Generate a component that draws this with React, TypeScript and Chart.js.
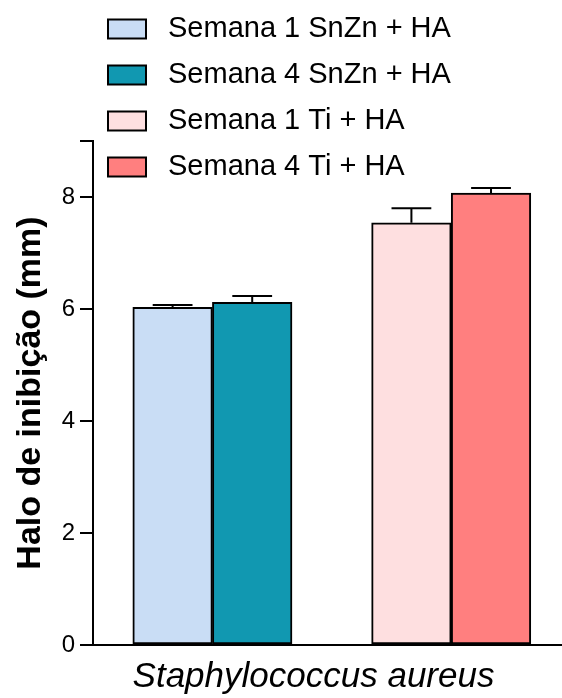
import { useEffect, useRef } from 'react';
import { Chart, registerables } from 'chart.js';

Chart.register(...registerables);

// Inhibition halo (mm) against Staphylococcus aureus, by coating and week
const seriesLabels = ['Semana 1 SnZn + HA', 'Semana 4 SnZn + HA', 'Semana 1 Ti + HA', 'Semana 4 Ti + HA'];
const haloMeans = [6.03, 6.12, 7.54, 8.07];
const haloErrors = [0.04, 0.11, 0.26, 0.09];
const barColors = ['#C9DDF5', '#1198B1', '#FEDFE0', '#FF7F7F'];
const yTickValues = [0, 2, 4, 6, 8, 9];
const yTickLabels = ['0', '2', '4', '6', '8', ''];
const xTitle = 'Staphylococcus aureus';
const yTitle = 'Halo de inibição (mm)';

const FONT = '"Liberation Sans", Arial, Helvetica, sans-serif';

// bars come in pairs (week 1, week 4) with one empty slot between the coatings
const slotOf = (i: number) => i + 1 + Math.floor(i / 2);

// SD caps drawn above each bar
const errorBars = {
  id: 'errorBars',
  afterDatasetsDraw(chart: any) {
    const { ctx } = chart;
    const yScale = chart.scales.y;
    ctx.save();
    ctx.strokeStyle = '#000';
    ctx.lineWidth = 2;
    chart.data.datasets.forEach((ds: any, i: number) => {
      const bar = chart.getDatasetMeta(i).data[0];
      if (!bar) return;
      const top = yScale.getPixelForValue(haloMeans[i] + haloErrors[i]);
      const half = bar.width / 4;
      ctx.beginPath();
      ctx.moveTo(bar.x, bar.y);
      ctx.lineTo(bar.x, top);
      ctx.moveTo(bar.x - half, top);
      ctx.lineTo(bar.x + half, top);
      ctx.stroke();
    });
    ctx.restore();
  },
};

// stacked legend with outlined swatches above the plot
const boxLegend = {
  id: 'boxLegend',
  afterDraw(chart: any) {
    const { ctx } = chart;
    ctx.save();
    ctx.font = `29px ${FONT}`;
    ctx.textBaseline = 'middle';
    ctx.textAlign = 'left';
    chart.data.datasets.forEach((ds: any, i: number) => {
      const cy = 29 + i * 46;
      ctx.fillStyle = ds.backgroundColor;
      ctx.fillRect(108, cy - 9.5, 38, 19);
      ctx.lineWidth = 2;
      ctx.strokeStyle = '#000';
      ctx.strokeRect(108, cy - 9.5, 38, 19);
      ctx.fillStyle = '#000';
      ctx.fillText(ds.label, 168, cy);
    });
    ctx.restore();
  },
};

// x baseline continues to the right edge of the figure
const axisRunout = {
  id: 'axisRunout',
  afterDraw(chart: any) {
    const { ctx, chartArea, width } = chart;
    const y = chart.scales.x.top;
    ctx.save();
    ctx.strokeStyle = '#000';
    ctx.lineWidth = 2;
    ctx.beginPath();
    ctx.moveTo(chartArea.right - 1, y);
    ctx.lineTo(width, y);
    ctx.stroke();
    ctx.restore();
  },
};

export default function App() {
  const canvasRef = useRef<HTMLCanvasElement | null>(null);

  useEffect(() => {
    if (!canvasRef.current) return;
    const chart = new Chart(canvasRef.current, {
      type: 'bar',
      data: {
        datasets: seriesLabels.map((label, i) => ({
          label,
          data: [{ x: slotOf(i), y: haloMeans[i] }],
          backgroundColor: barColors[i],
          borderColor: '#000',
          borderWidth: 2,
          borderSkipped: false,
          grouped: false,
          barPercentage: 1,
          categoryPercentage: 1,
        })),
      },
      options: {
        responsive: false,
        animation: false,
        devicePixelRatio: 1,
        layout: { padding: { top: 141, right: 28, bottom: 0, left: 0 } },
        plugins: {
          legend: { display: false },
          tooltip: { enabled: false },
        },
        scales: {
          x: {
            type: 'linear',
            offset: false,
            min: 0,
            max: 5.54,
            grid: { display: false, offset: false },
            border: { display: true, color: '#000', width: 2 },
            ticks: { display: false, stepSize: 1, includeBounds: false },
            title: {
              display: true,
              text: xTitle,
              color: '#000',
              font: { family: FONT, size: 35, style: 'italic', lineHeight: 1.2 },
              padding: 0,
            },
            afterFit: (scale: any) => {
              scale.height = 53;
            },
          },
          y: {
            type: 'linear',
            min: 0,
            max: 9,
            grid: {
              display: true,
              drawOnChartArea: false,
              drawTicks: true,
              tickLength: 13,
              color: '#000',
              lineWidth: 2,
            },
            border: { display: true, color: '#000', width: 2 },
            ticks: {
              color: '#000',
              padding: 5,
              font: { family: FONT, size: 24 },
              callback: (value: any) => {
                const k = yTickValues.indexOf(Number(value));
                return k >= 0 ? yTickLabels[k] : '';
              },
            },
            afterBuildTicks: (scale: any) => {
              scale.ticks = yTickValues.map((v) => ({ value: v }));
            },
            title: {
              display: true,
              text: yTitle,
              color: '#000',
              font: { family: FONT, size: 34, weight: 'bold', lineHeight: 1.2 },
              padding: { top: 10, bottom: 0 },
            },
            afterFit: (scale: any) => {
              scale.width = 93;
            },
          },
        },
      },
      plugins: [errorBars, boxLegend, axisRunout],
    } as any);
    return () => chart.destroy();
  }, []);

  return (
    <div style={{ position: 'fixed', left: 0, top: 0, width: 562, height: 698, background: '#fff' }}>
      <canvas ref={canvasRef} width={562} height={698} style={{ display: 'block' }} />
    </div>
  );
}
